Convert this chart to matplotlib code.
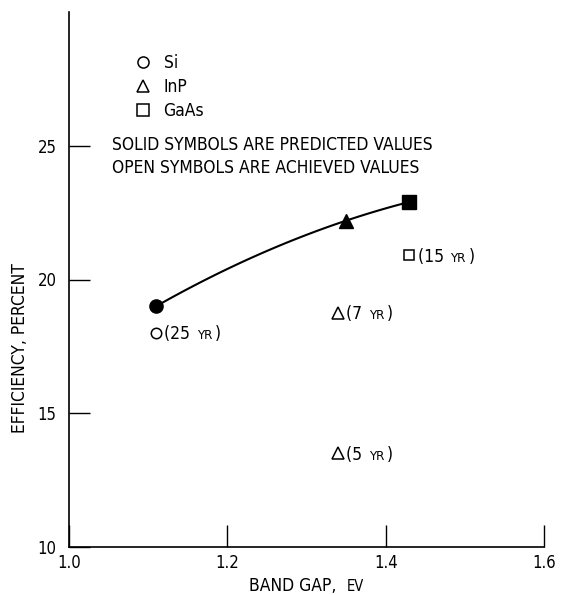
import numpy as np
import matplotlib
matplotlib.use("Agg")
import matplotlib.pyplot as plt
from matplotlib.lines import Line2D

plt.rcParams['font.family'] = ['DejaVu Sans']
plt.rcParams['font.stretch'] = 'condensed'

# ---- data ----
materials = ["Si", "InP", "GaAs"]
legend_markers = ["o", "^", "s"]

# predicted (solid) values
pred_gap = [1.11, 1.35, 1.43]
pred_eff = [19.0, 22.2, 22.9]

# achieved (open) values
ach_gap = [1.11, 1.43, 1.34, 1.34]
ach_eff = [18.0, 20.9, 18.75, 13.5]
ach_marker = ["o", "s", "^", "^"]
ach_years = ["25", "15", "7", "5"]

x_ticks = [1.0, 1.2, 1.4, 1.6]
x_ticklabels = ["1.0", "1.2", "1.4", "1.6"]
y_ticks = [10, 15, 20, 25]
y_ticklabels = ["10", "15", "20", "25"]

note_lines = ["SOLID SYMBOLS ARE PREDICTED VALUES",
              "OPEN SYMBOLS ARE ACHIEVED VALUES"]

W, H = 561, 595
fig = plt.figure(figsize=(W / 100, H / 100), dpi=100)
ax = fig.add_axes([69 / W, 1 - 547 / H, 475 / W, 535 / H])

ax.set_xlim(1.0, 1.6)
ax.set_ylim(10, 30)
for s in ["top", "right"]:
    ax.spines[s].set_visible(False)
for s in ["left", "bottom"]:
    ax.spines[s].set_linewidth(1.2)

FS = 12.5
TICKFS = 12
SMALL = 9.5

ax.set_xticks(x_ticks)
ax.set_xticklabels(x_ticklabels)
ax.set_yticks(y_ticks)
ax.set_yticklabels(y_ticklabels)
ax.tick_params(axis="x", direction="in", length=16, width=1, pad=5, labelsize=TICKFS)
ax.tick_params(axis="y", direction="in", length=15, width=1, pad=9, labelsize=TICKFS)

# curve through predicted points
coef = np.polyfit(pred_gap, pred_eff, 2)
xs = np.linspace(min(pred_gap), max(pred_gap), 100)
ax.plot(xs, np.polyval(coef, xs), color="black", lw=1.5, zorder=2)

# solid symbols
for x, y, m in zip(pred_gap, pred_eff, legend_markers):
    ax.plot([x], [y], marker=m, ms=9.5, color="black", ls="none", zorder=3)

# open symbols with year labels
for x, y, m, yr in zip(ach_gap, ach_eff, ach_marker, ach_years):
    ms = 9 if m == "^" else 7.5
    ax.plot([x], [y], marker=m, ms=ms, mfc="white", mec="black", mew=1.1,
            ls="none", zorder=3)
    t1 = ax.annotate("(" + yr + " ", xy=(x, y), xytext=(6, -4.5),
                     textcoords="offset points", va="baseline", ha="left",
                     fontsize=FS)
    t2 = ax.annotate("YR", xy=(1, y), xycoords=(t1, "data"),
                     xytext=(1, -4.5), textcoords="offset points",
                     va="baseline", ha="left", fontsize=SMALL)
    ax.annotate(")", xy=(1, y), xycoords=(t2, "data"),
                xytext=(2, -4.5), textcoords="offset points",
                va="baseline", ha="left", fontsize=FS)

# legend
handles = [Line2D([], [], marker=m, ls="none", mfc="white", mec="black",
                  mew=1.1, ms=(9 if m == "^" else 8)) for m in legend_markers]
ax.legend(handles, materials, loc="upper left",
          bbox_to_anchor=(0.137, 0.921), frameon=False, fontsize=FS,
          handlelength=1.0, handletextpad=0.7, labelspacing=0.35,
          borderpad=0, borderaxespad=0)

# note text
ax.text(1.054, 25.04, note_lines[0], fontsize=FS, va="center", ha="left")
ax.text(1.054, 24.18, note_lines[1], fontsize=FS, va="center", ha="left")

# axis labels
ylab = ax.set_ylabel("EFFICIENCY, PERCENT", fontsize=FS, va="center")
ax.yaxis.set_label_coords((20 - 69) / 475, (547 - 348) / 535)

xl1 = fig.text(249 / W, (H - 591) / H, "BAND GAP,  ", fontsize=FS,
               va="baseline", ha="left")
ax.annotate("EV", xy=(1, (H - 591) / H), xycoords=(xl1, "figure fraction"),
            va="baseline", ha="left", fontsize=SMALL + 1)

fig.savefig("out.png", dpi=100)
